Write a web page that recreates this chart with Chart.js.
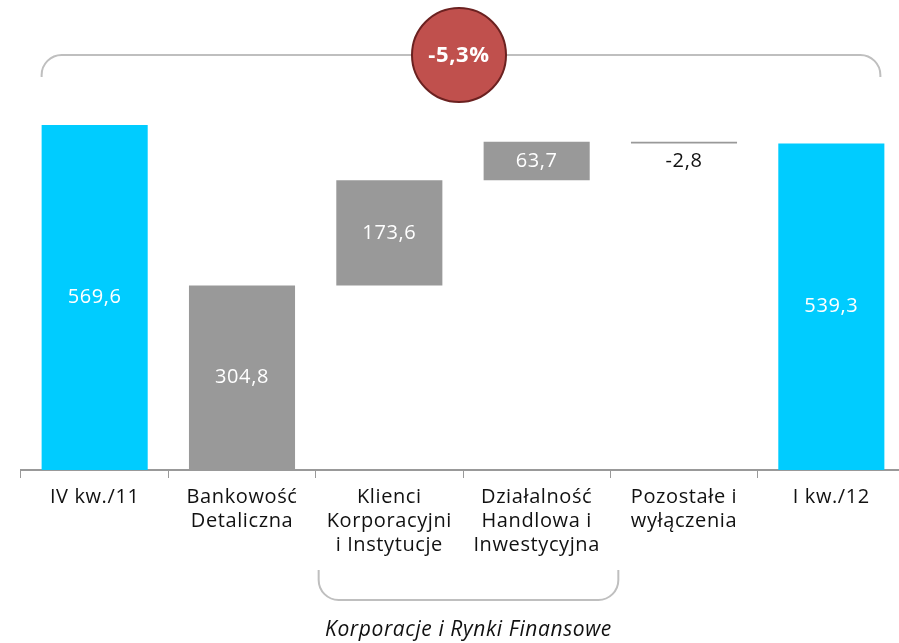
<!DOCTYPE html>
<html>
<head>
<meta charset="utf-8">
<script src="https://cdn.jsdelivr.net/npm/chart.js@4"></script>
<style>
  html, body { margin: 0; padding: 0; background: #fff; overflow: hidden; }
  #wrap { width: 905px; height: 643px; }
</style>
</head>
<body>
<div id="wrap"><canvas id="waterfall" width="905" height="643"></canvas></div>
<script>
// WATERFALL DATA
const categories = [
    'IV kw./11',
    ['Bankowość', 'Detaliczna'],
    ['Klienci', 'Korporacyjni', 'i Instytucje'],
    ['Działalność', 'Handlowa i', 'Inwestycyjna'],
    ['Pozostałe i', 'wyłączenia'],
    'I kw./12'
];
const values = [569.6, 304.8, 173.6, 63.7, -2.8, 539.3];
const isTotal = [true, false, false, false, false, true];
const valueLabels = ['569,6', '304,8', '173,6', '63,7', '-2,8', '539,3'];
const changeLabel = '-5,3%';
const groupLabel = 'Korporacje i Rynki Finansowe';

const FONT = '"Open Sans", "DejaVu Sans", sans-serif';

// build floating ranges: segments stack up from zero, last step goes down
const ranges = [];
let running = 0;
values.forEach((v, i) => {
    if (isTotal[i]) {
        ranges.push([0, v]);
        running = v;
    } else if (i === 1) {
        ranges.push([0, v]);
        running = v;
    } else if (v < 0) {
        ranges.push([running + v, running]);
        running = running + v;
    } else {
        ranges.push([running, running + v]);
        running = running + v;
    }
});

const barColors = isTotal.map(t => t ? '#00CCFF' : '#999999');

// a bit of tracking, the original font is wider spaced
const spacingPlugin = {
    id: 'spacing',
    beforeDraw(chart) {
        chart.ctx.letterSpacing = '0.6px';
    }
};

// labels inside / below the bars
const valueLabelPlugin = {
    id: 'valueLabels',
    afterDatasetsDraw(chart) {
        const ctx = chart.ctx;
        const meta = chart.getDatasetMeta(0);
        ctx.save();
        ctx.font = '20px ' + FONT;
        ctx.textAlign = 'center';
        ctx.textBaseline = 'middle';
        meta.data.forEach((bar, i) => {
            const top = Math.min(bar.y, bar.base);
            const bottom = Math.max(bar.y, bar.base);
            if (values[i] < 0) {
                ctx.fillStyle = '#111111';
                ctx.fillText(valueLabels[i], bar.x, bottom + 18);
            } else {
                ctx.fillStyle = '#ffffff';
                ctx.fillText(valueLabels[i], bar.x, (top + bottom) / 2);
            }
        });
        ctx.restore();
    }
};

// brackets, change bubble and group caption
const decorPlugin = {
    id: 'decor',
    afterDraw(chart) {
        const ctx = chart.ctx;
        const meta = chart.getDatasetMeta(0);
        const xs = chart.scales.x;
        const first = meta.data[0], last = meta.data[meta.data.length - 1];
        const left = first.x - first.width / 2;
        const right = last.x + last.width / 2 - 4;
        const yTop = 55, yEnd = 77, r = 20;

        ctx.save();
        ctx.strokeStyle = '#BFBFBF';
        ctx.lineWidth = 2;
        ctx.beginPath();
        ctx.moveTo(left, yEnd);
        ctx.arcTo(left, yTop, left + r, yTop, r);
        ctx.arcTo(right, yTop, right, yEnd, r);
        ctx.lineTo(right, yEnd);
        ctx.stroke();

        // bottom bracket under the corporate segments
        const step = (xs.getPixelForValue(1) - xs.getPixelForValue(0));
        const bLeft = xs.getPixelForValue(2) - step / 2 + 3;
        const bRight = xs.getPixelForValue(3) + step / 2 + 8;
        const bTop = 570, bBot = 600;
        ctx.beginPath();
        ctx.moveTo(bLeft, bTop);
        ctx.arcTo(bLeft, bBot, bLeft + r, bBot, r);
        ctx.arcTo(bRight, bBot, bRight, bTop, r);
        ctx.lineTo(bRight, bTop);
        ctx.stroke();

        // change bubble
        const cx = 459, cy = 55;
        ctx.beginPath();
        ctx.arc(cx, cy, 47, 0, Math.PI * 2);
        ctx.fillStyle = '#C0504D';
        ctx.fill();
        ctx.strokeStyle = '#6B2120';
        ctx.lineWidth = 2;
        ctx.stroke();
        ctx.fillStyle = '#ffffff';
        ctx.font = 'bold 22px ' + FONT;
        ctx.textAlign = 'center';
        ctx.textBaseline = 'middle';
        ctx.fillText(changeLabel, cx, cy + 1);

        // group caption
        ctx.fillStyle = '#111111';
        ctx.font = 'italic 21px ' + FONT;
        ctx.fillText(groupLabel, (bLeft + bRight) / 2, 630);
        ctx.restore();
    }
};

const ctx = document.getElementById('waterfall').getContext('2d');
const waterfall = new Chart(ctx, {
    type: 'bar',
    data: {
        labels: categories,
        datasets: [{
            data: ranges,
            backgroundColor: barColors,
            borderWidth: 0,
            barPercentage: 0.72,
            categoryPercentage: 1
        }]
    },
    options: {
        responsive: false,
        animation: false,
        layout: {
            padding: { top: 100, left: 21, right: 0, bottom: 79 }
        },
        plugins: {
            legend: { display: false },
            tooltip: { enabled: false }
        },
        scales: {
            x: {
                grid: {
                    display: true,
                    drawOnChartArea: false,
                    drawTicks: true,
                    tickLength: 8,
                    color: '#999999',
                    lineWidth: 1
                },
                border: { display: true, color: '#999999', width: 2 },
                ticks: {
                    color: '#111111',
                    padding: 7,
                    maxRotation: 0,
                    autoSkip: false,
                    font: { family: FONT, size: 20, lineHeight: 1.2 }
                }
            },
            y: {
                display: false,
                min: 0,
                max: 611
            }
        }
    },
    plugins: [spacingPlugin, valueLabelPlugin, decorPlugin]
});
</script>
</body>
</html>
